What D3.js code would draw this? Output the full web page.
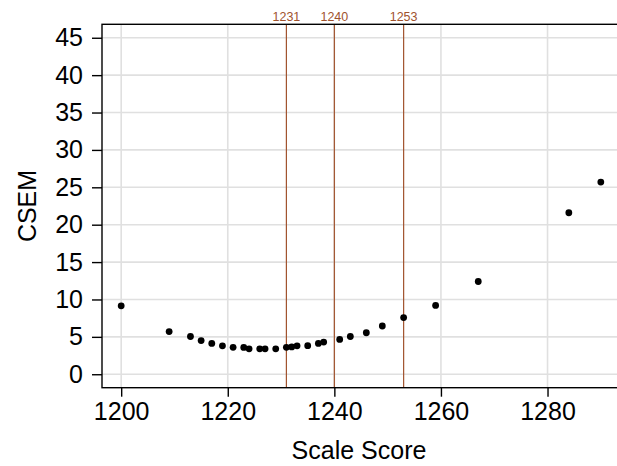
<!DOCTYPE html>
<html><head><meta charset="utf-8">
<script src="https://cdn.jsdelivr.net/npm/d3@7"></script>
<style>body{margin:0;background:#fff;} svg{display:block;} text{font-family:"Liberation Sans",Arial,sans-serif;}</style>
</head><body>
<svg id="c" width="617" height="466"></svg>
<script>
const scaleScores = [1200,1209,1213,1215,1217,1219,1221,1223,1224,1226,1227,1229,1231,1232,1233,1235,1237,1238,1241,1243,1246,1249,1253,1259,1267,1284,1290];
const csem = [9.15,5.7,5.05,4.5,4.12,3.8,3.6,3.58,3.4,3.4,3.4,3.4,3.6,3.65,3.8,3.82,4.12,4.3,4.65,5.05,5.55,6.45,7.58,9.2,12.4,21.6,25.7];
const cutScores = [1231,1240,1253];
const xTicks = [1200,1220,1240,1260,1280];
const yTicks = [0,5,10,15,20,25,30,35,40,45];
const xLimits = [1200,1290];
const yLimits = [0,45];

const svg = d3.select('#c');
const L = 102, T = 24.3, R = 620, B = 387.7;
const xpad = (xLimits[1]-xLimits[0])*0.04, ypad = (yLimits[1]-yLimits[0])*0.04;
const x = d3.scaleLinear().domain([xLimits[0]-xpad, xLimits[1]+xpad]).range([L, R]);
const y = d3.scaleLinear().domain([yLimits[0]-ypad, yLimits[1]+ypad]).range([B, T]);

// grid
const g = svg.append('g');
g.selectAll('.gx').data(xTicks).join('line')
  .attr('x1', d=>x(d)).attr('x2', d=>x(d)).attr('y1', T).attr('y2', B)
  .attr('stroke', '#e0e0e0').attr('stroke-width', 1.6);
g.selectAll('.gy').data(yTicks).join('line')
  .attr('y1', d=>y(d)).attr('y2', d=>y(d)).attr('x1', L).attr('x2', R)
  .attr('stroke', '#e0e0e0').attr('stroke-width', 1.6);

// cut lines
const cutColor = '#a0522d';
svg.selectAll('.cut').data(cutScores).join('line')
  .attr('x1', d=>x(d)).attr('x2', d=>x(d)).attr('y1', T).attr('y2', B)
  .attr('stroke', cutColor).attr('stroke-width', 1.2);
svg.selectAll('.cutlab').data(cutScores).join('text')
  .attr('x', d=>x(d)).attr('y', 21).attr('text-anchor', 'middle')
  .attr('font-size', 12.5).attr('fill', cutColor).text(d=>d);

// points
svg.selectAll('.pt').data(scaleScores).join('circle')
  .attr('cx', d=>x(d)).attr('cy', (d,i)=>y(csem[i])).attr('r', 3.4).attr('fill', '#000');

// box
svg.append('rect').attr('x', L).attr('y', T).attr('width', R-L).attr('height', B-T)
  .attr('fill', 'none').attr('stroke', '#000').attr('stroke-width', 1.4);

// axes
const xAxis = d3.axisBottom(x).tickValues(xTicks).tickSize(9).tickPadding(6).tickFormat(d3.format('d'));
const xa = svg.append('g').attr('transform', `translate(0,${B})`).call(xAxis);
xa.select('.domain').remove();
xa.selectAll('line').attr('stroke', '#000').attr('stroke-width', 1.4);
xa.selectAll('text').attr('font-size', 25).attr('fill', '#000').attr('font-family', '"Liberation Sans",Arial,sans-serif');

const yAxis = d3.axisLeft(y).tickValues(yTicks).tickSize(10).tickPadding(9);
const ya = svg.append('g').attr('transform', `translate(${L},0)`).call(yAxis);
ya.select('.domain').remove();
ya.selectAll('line').attr('stroke', '#000').attr('stroke-width', 1.4);
ya.selectAll('text').attr('font-size', 25).attr('fill', '#000').attr('font-family', '"Liberation Sans",Arial,sans-serif');

// titles
svg.append('text').attr('x', (L+R)/2 - 2).attr('y', 459).attr('text-anchor', 'middle')
  .attr('font-size', 25).attr('fill', '#000').text('Scale Score');
svg.append('text').attr('transform', `translate(36,${(T+B)/2}) rotate(-90)`).attr('text-anchor', 'middle')
  .attr('font-size', 25).attr('fill', '#000').text('CSEM');
</script>
</body></html>
